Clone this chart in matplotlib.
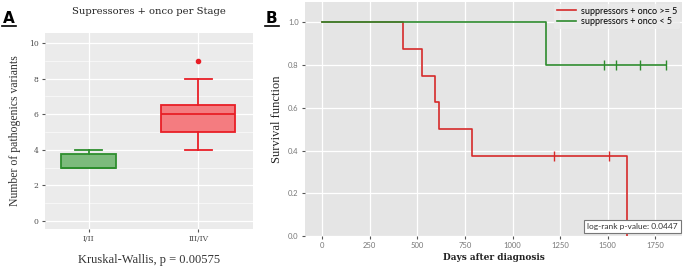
import matplotlib

matplotlib.use("Agg")
import matplotlib.pyplot as plt
from matplotlib.lines import Line2D

# Panel A: boxplot summary per stage
stages = ["I/II", "III/IV"]
q1 = [3.0, 5.0]
medians = [3.0, 6.0]
q3 = [3.75, 6.5]
whisk_low = [3.0, 4.0]
whisk_high = [4.0, 8.0]
outliers = [[], [9.0]]

# Panel B: Kaplan-Meier steps
high_times = [0, 424, 523, 593, 616, 785, 1603]
high_surv = [1.0, 0.875, 0.75, 0.625, 0.5, 0.375, 0.0]
high_censor = [1216, 1506]
low_times = [0, 1178, 1806]
low_surv = [1.0, 0.8, 0.8]
low_censor = [1480, 1544, 1672, 1806]
x_ticks = [0, 250, 500, 750, 1000, 1250, 1500, 1750]
y_ticks = [0.0, 0.2, 0.4, 0.6, 0.8, 1.0]

W, H = 685, 268
fig = plt.figure(figsize=(W / 100, H / 100), dpi=100)


def px_axes(left, top, right, bottom):
    return fig.add_axes([left / W, 1 - bottom / H, (right - left) / W, (bottom - top) / H])


# ---------------- Panel A ----------------
ax = px_axes(45, 33, 253, 229)
ax.set_facecolor("#EBEBEB")
for s in ax.spines.values():
    s.set_visible(False)

stats = []
for i in range(len(stages)):
    stats.append({
        "med": medians[i], "q1": q1[i], "q3": q3[i],
        "whislo": whisk_low[i], "whishi": whisk_high[i], "fliers": outliers[i],
    })

fills = ["#7CBB7C", "#F47C80"]
edges = ["#2E8E2E", "#E81E26"]
bp = ax.bxp(stats, positions=[1, 2], widths=[0.5, 0.68], capwidths=[0.25, 0.25],
            patch_artist=True, zorder=3)
for i in range(2):
    bp["boxes"][i].set(facecolor=fills[i], edgecolor=edges[i], linewidth=1.3)
    bp["medians"][i].set(color=edges[i], linewidth=1.3)
    for w in bp["whiskers"][2 * i:2 * i + 2] + bp["caps"][2 * i:2 * i + 2]:
        w.set(color=edges[i], linewidth=1.3)
    bp["fliers"][i].set(marker="o", markerfacecolor=edges[i], markeredgecolor=edges[i],
                        markersize=3)

ax.set_xlim(0.6, 2.5)
ax.set_ylim(-0.45, 10.56)
ax.set_yticks([0, 2, 4, 6, 8, 10])
ax.set_yticks([1, 3, 5, 7, 9], minor=True)
ax.set_xticks([1, 2])
ax.set_xticklabels(stages)
ax.grid(True, which="major", color="white", linewidth=0.9, zorder=0)
ax.grid(True, which="minor", axis="y", color="white", linewidth=0.4, zorder=0)
ax.set_axisbelow(True)
ax.tick_params(which="major", length=2.5, color="#555555", labelcolor="#4D4D4D",
               labelsize=5.5, pad=2)
ax.tick_params(which="minor", length=0)
for lab in ax.get_xticklabels() + ax.get_yticklabels():
    lab.set_family("DejaVu Serif")
ax.set_title("Supressores + onco per Stage", family="DejaVu Serif", fontsize=7.2,
             color="#222222", pad=14)
ax.set_xlabel("Kruskal-Wallis, p = 0.00575", family="Liberation Serif", fontsize=9,
              color="#333333", labelpad=8)
ax.set_ylabel("Number of pathogenics variants", family="Liberation Serif", fontsize=8.5,
              color="#333333", labelpad=6)

# ---------------- Panel B ----------------
bx = px_axes(305, 2, 682, 236)
bx.set_facecolor("#E5E5E5")
for s in bx.spines.values():
    s.set_visible(False)

red = "#D62A2A"
green = "#2E8B2E"
bx.step(high_times, high_surv, where="post", color=red, linewidth=1.2,
        label="suppressors + onco >= 5", zorder=3)
bx.plot(high_censor, [high_surv[-2]] * len(high_censor), linestyle="none", marker="|",
        markersize=7, color=red, zorder=3)
bx.step(low_times, low_surv, where="post", color=green, linewidth=1.2,
        label="suppressors + onco < 5", zorder=4)
bx.plot(low_censor, [low_surv[-1]] * len(low_censor), linestyle="none", marker="|",
        markersize=7, color=green, zorder=4)

bx.set_xlim(-90, 1890)
bx.set_ylim(0, 1.095)
bx.set_xticks(x_ticks)
bx.set_yticks(y_ticks)
bx.grid(True, color="white", linewidth=0.9, zorder=0)
bx.set_axisbelow(True)
bx.tick_params(length=2.5, color="#555555", labelcolor="#777777", labelsize=5.5, pad=2)
for lab in bx.get_xticklabels() + bx.get_yticklabels():
    lab.set_family("Lato")
bx.set_xlabel("Days after diagnosis", family="DejaVu Serif", fontweight="bold",
              fontsize=6.5, color="#222222", labelpad=3)
bx.set_ylabel("Survival function", family="Liberation Serif", fontsize=9,
              color="#222222", labelpad=4)
leg = bx.legend(loc="upper right", prop={"family": "Lato", "size": 6.5}, frameon=True,
                handlelength=2.1, handletextpad=0.6, borderaxespad=0.2,
                labelspacing=0.2, borderpad=0.3)
leg.get_frame().set(facecolor="#EBEBEB", edgecolor="none", alpha=0.8)
leg.set_zorder(2)
bx.text(0.989, 0.026, "log-rank p-value: 0.0447", transform=bx.transAxes, ha="right",
        va="bottom", family="Lato", fontsize=6, color="#333333", zorder=5,
        bbox=dict(boxstyle="square,pad=0.35", facecolor="white", edgecolor="#777777",
                  linewidth=0.8))

# Panel letters
fig.text(3 / W, 1 - 23 / H, "A", family="DejaVu Sans", fontweight="bold", fontsize=11)
fig.text(266 / W, 1 - 23 / H, "B", family="DejaVu Sans", fontweight="bold", fontsize=11)
fig.add_artist(Line2D([2 / W, 16 / W], [1 - 26 / H] * 2, color="black", linewidth=1.2))
fig.add_artist(Line2D([265 / W, 279 / W], [1 - 26 / H] * 2, color="black", linewidth=1.2))

fig.savefig("out.png", dpi=100)
